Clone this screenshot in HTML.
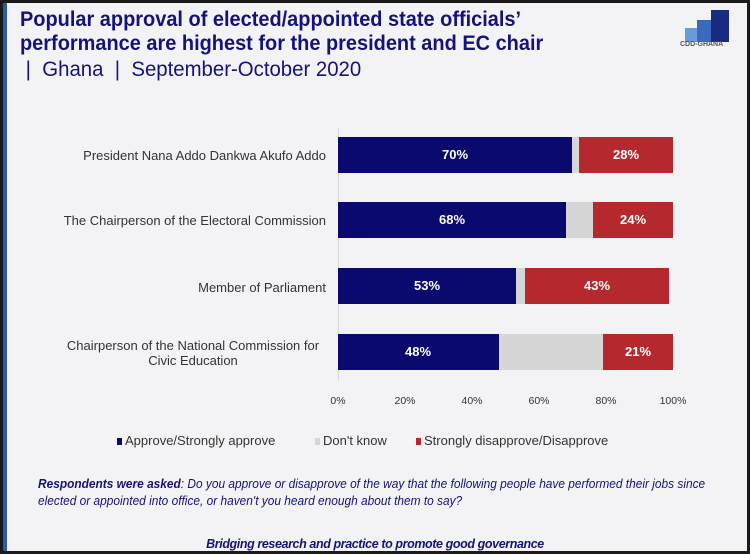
<!DOCTYPE html>
<html><head><meta charset="utf-8"><style>
body{margin:0;width:750px;height:554px;background:#1a1a1a;position:relative;overflow:hidden;font-family:"Liberation Sans",sans-serif}
#s{position:absolute;left:3px;top:3px;width:744px;height:548px;background:#f3f3f5}
#lb{position:absolute;left:3px;top:3px;width:4px;height:548px;background:#2a5aa8}
.t{position:absolute;color:#13137a;white-space:nowrap}
.bar{position:absolute;height:36px}
.n{background:#0a0a6e}.g{background:#d6d6d6}.r{background:#b5282d}
.v{position:absolute;color:#fff;font-weight:bold;font-size:13px;width:60px;text-align:center;line-height:36px}
.lab{position:absolute;font-size:13px;color:#333;text-align:center;width:330px;white-space:nowrap}
.tk{position:absolute;top:395px;font-size:10.5px;color:#333;width:40px;text-align:center}
.lg{position:absolute;top:433px;font-size:13px;color:#333;white-space:nowrap}
.lg i{display:inline-block;width:5px;height:7px;margin-right:3px}
</style></head><body>
<div id="s"></div><div id="lb"></div>
<div class="t" style="left:20px;top:8px;font-size:21px;font-weight:bold;line-height:24px;transform:scaleX(0.95);transform-origin:left">Popular approval of elected/appointed state officials’<br>performance are highest for the president and EC chair</div>
<div class="t" style="left:20px;top:58px;font-size:21px;line-height:24px;transform:scaleX(0.97);transform-origin:left">&nbsp;|&nbsp; Ghana &nbsp;|&nbsp; September-October 2020</div>
<div style="position:absolute;left:675px;top:8px;width:58px;height:40px">
<div style="position:absolute;left:10px;top:20px;width:14px;height:14px;background:#6a9ad8"></div>
<div style="position:absolute;left:22px;top:12px;width:16px;height:22px;background:#3a6ac0"></div>
<div style="position:absolute;left:36px;top:2px;width:18px;height:32px;background:#1a2a80"></div>
<div style="position:absolute;left:5px;top:33px;font-size:7px;color:#555;font-weight:bold">CDD-GHANA</div></div>
<div style="position:absolute;left:338px;top:128px;width:1px;height:252px;background:#d8d8d8"></div>

<div class="bar n" style="left:338px;top:137px;width:234px"></div><div class="bar g" style="left:572px;top:137px;width:7px"></div><div class="bar r" style="left:579px;top:137px;width:94px"></div>
<div class="v" style="left:425px;top:137px">70%</div><div class="v" style="left:596px;top:137px">28%</div>
<div class="bar n" style="left:338px;top:202px;width:228px"></div><div class="bar g" style="left:566px;top:202px;width:27px"></div><div class="bar r" style="left:593px;top:202px;width:80px"></div>
<div class="v" style="left:422px;top:202px">68%</div><div class="v" style="left:603px;top:202px">24%</div>
<div class="bar n" style="left:338px;top:268px;width:178px"></div><div class="bar g" style="left:516px;top:268px;width:9px"></div><div class="bar r" style="left:525px;top:268px;width:144px"></div>
<div class="v" style="left:397px;top:268px">53%</div><div class="v" style="left:567px;top:268px">43%</div>
<div class="bar n" style="left:338px;top:334px;width:161px"></div><div class="bar g" style="left:499px;top:334px;width:104px"></div><div class="bar r" style="left:603px;top:334px;width:70px"></div>
<div class="v" style="left:388px;top:334px">48%</div><div class="v" style="left:608px;top:334px">21%</div>

<div class="lab" style="left:-4px;top:148px;text-align:right">President Nana Addo Dankwa Akufo Addo</div>
<div class="lab" style="left:-4px;top:213px;text-align:right">The Chairperson of the Electoral Commission</div>
<div class="lab" style="left:-4px;top:280px;text-align:right">Member of Parliament</div>
<div class="lab" style="left:28px;top:338px;line-height:15px">Chairperson of the National Commission for<br>Civic Education</div>

<div class="tk" style="left:318px">0%</div><div class="tk" style="left:385px">20%</div><div class="tk" style="left:452px">40%</div><div class="tk" style="left:519px">60%</div><div class="tk" style="left:586px">80%</div><div class="tk" style="left:653px">100%</div>

<div class="lg" style="left:117px"><i style="background:#0a0a6e"></i>Approve/Strongly approve</div>
<div class="lg" style="left:315px"><i style="background:#d6d6d6"></i>Don't know</div>
<div class="lg" style="left:416px"><i style="background:#b5282d"></i>Strongly disapprove/Disapprove</div>

<div style="position:absolute;left:38px;top:475px;white-space:nowrap;font-size:13px;font-style:italic;color:#13137a;line-height:17px;transform:scaleX(0.915);transform-origin:left"><b>Respondents were asked</b>: Do you approve or disapprove of the way that the following people have performed their jobs since<br>elected or appointed into office, or haven't you heard enough about them to say?</div>
<div style="position:absolute;left:0;width:750px;top:537px;text-align:center;font-size:12.5px;font-style:italic;font-weight:bold;color:#13137a;letter-spacing:-0.4px">Bridging research and practice to promote good governance</div>
</body></html>
